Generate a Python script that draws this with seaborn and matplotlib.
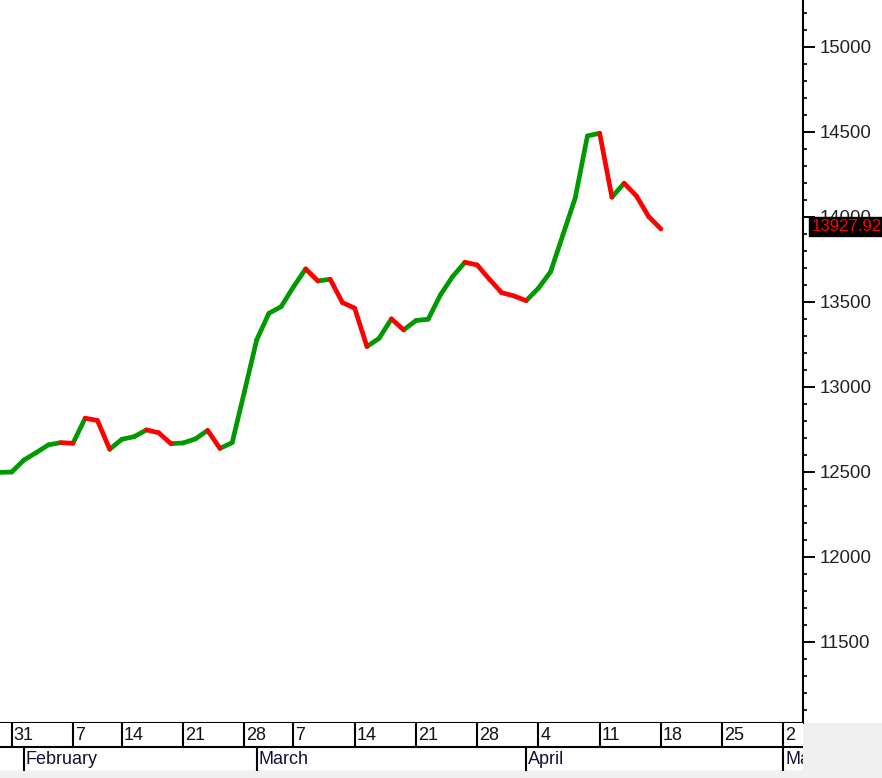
import numpy as np
import pandas as pd
import matplotlib
matplotlib.use("Agg")
import matplotlib.pyplot as plt
import matplotlib.transforms as mtransforms
from matplotlib.patches import Rectangle
from matplotlib.ticker import MultipleLocator
import seaborn as sns

# ---------------- data ----------------
axis_start = "2022-01-28"
axis_end = "2022-05-06"
holidays = ["2022-02-11", "2022-03-04"]

close = [12496, 12498, 12569, 12612, 12658, 12671, 12667, 12815, 12801, 12632,
         12691, 12706, 12746, 12729, 12665, 12669, 12693, 12743, 12637, 12671,
         12971, 13275, 13432, 13471, 13587, 13693, 13622, 13632, 13495, 13462,
         13236, 13285, 13399, 13334, 13389, 13397, 13540, 13648, 13732, 13716,
         13632, 13553, 13534, 13506, 13579, 13677, 13893, 14109, 14475, 14491,
         14115, 14197, 14122, 14001, 13927.92]
last_label = "13927.92"

y_major = 500
y_minor = 100

up_color = "#009900"
down_color = "#ff0000"

# ---------------- setup ----------------
sns.set_style("white")
plt.rcParams["font.family"] = ["Liberation Sans", "DejaVu Sans"]

dates = pd.bdate_range(axis_start, axis_end).drop(pd.to_datetime(holidays))
idx = np.arange(len(dates))

W, H = 882, 778
fig = plt.figure(figsize=(W / 100, H / 100), dpi=100, facecolor="white")
ax = fig.add_axes([0, 55 / H, 803 / W, 723 / H])
axd = fig.add_axes([0, 7 / H, 803 / W, 48 / H])

# gray window chrome areas
fig.add_artist(Rectangle((803 / W, 0), 79 / W, 55 / H, transform=fig.transFigure,
                         facecolor="#f0f0f0", edgecolor="none", zorder=-5))
fig.add_artist(Rectangle((0, 0), 803 / W, 7 / H, transform=fig.transFigure,
                         facecolor="#f0f0f0", edgecolor="none", zorder=-5))

# ---------------- line segments coloured by direction ----------------
rows = []
for i in range(len(close) - 1):
    d = "up" if close[i + 1] >= close[i] else "down"
    rows.append({"x": idx[i], "value": close[i], "seg": i, "dir": d})
    rows.append({"x": idx[i + 1], "value": close[i + 1], "seg": i, "dir": d})
df = pd.DataFrame(rows)

sns.lineplot(data=df, x="x", y="value", hue="dir", units="seg", estimator=None,
             palette={"up": up_color, "down": down_color}, linewidth=3.4,
             legend=False, sort=False, ax=ax, solid_capstyle="round")

xlim = (0.045, 65.6)
ax.set_xlim(*xlim)
ax.set_ylim(11021.8, 15274.7)
ax.set_xticks([])
ax.set_xlabel("")
ax.set_ylabel("")
ax.yaxis.tick_right()
ax.yaxis.set_major_locator(MultipleLocator(y_major))
ax.yaxis.set_minor_locator(MultipleLocator(y_minor))
ax.tick_params(axis="y", which="major", direction="out", length=8.6, width=1.4,
               pad=3.4, labelsize=13.4, labelcolor="#222222", color="black",
               right=True, left=False)
ax.tick_params(axis="y", which="minor", direction="out", length=2.9, width=1.2,
               color="black", right=True, left=False)
for s in ["left", "top"]:
    ax.spines[s].set_visible(False)
for s in ["right", "bottom"]:
    ax.spines[s].set_color("black")
    ax.spines[s].set_linewidth(1.5)

# last price label
ax.annotate(last_label, xy=(1, close[-1]), xycoords=("axes fraction", "data"),
            xytext=(6, 1.5), textcoords="offset points", ha="left", va="center",
            color="#ff0000", fontsize=12.2, annotation_clip=False, zorder=10,
            bbox=dict(boxstyle="square,pad=0.12", fc="black", ec="black"))

# ---------------- date band ----------------
axd.set_xlim(*xlim)
axd.set_ylim(0, 2)
axd.set_xticks([])
axd.set_yticks([])
for s in axd.spines.values():
    s.set_visible(False)
axd.set_facecolor("white")

ds = pd.Series(idx, index=dates)
week_first = ds.groupby(dates.to_period("W")).min()
week_first = week_first[(week_first > xlim[0]) & (week_first < xlim[1])]
month_first = ds.groupby(dates.to_period("M")).min()
month_first = month_first[(month_first > xlim[0]) & (month_first < xlim[1])]

axd.axhline(1, color="black", lw=1.5)
axd.axhline(0.02, color="#d0d0d0", lw=1)
axd.vlines(week_first.values, 1, 2, color="black", lw=1.5)
axd.vlines(month_first.values, 0, 1, color="black", lw=1.5)
extra = [m for m in month_first.values if np.min(np.abs(week_first.values - m)) > 1]
if extra:
    axd.vlines(extra, 1, 2, color="black", lw=1.5)

toff = mtransforms.offset_copy(axd.transData, fig=fig, x=2, y=0, units="dots")
for p in week_first.values:
    axd.text(p, 1.48, str(dates[p].day), transform=toff, ha="left", va="center",
             fontsize=13, color="#111111", clip_on=True)
for p in month_first.values:
    axd.text(p, 0.48, dates[p].strftime("%B"), transform=toff, ha="left",
             va="center", fontsize=13, color="#111133", clip_on=True)

fig.savefig("out.png", dpi=100, facecolor="white")
